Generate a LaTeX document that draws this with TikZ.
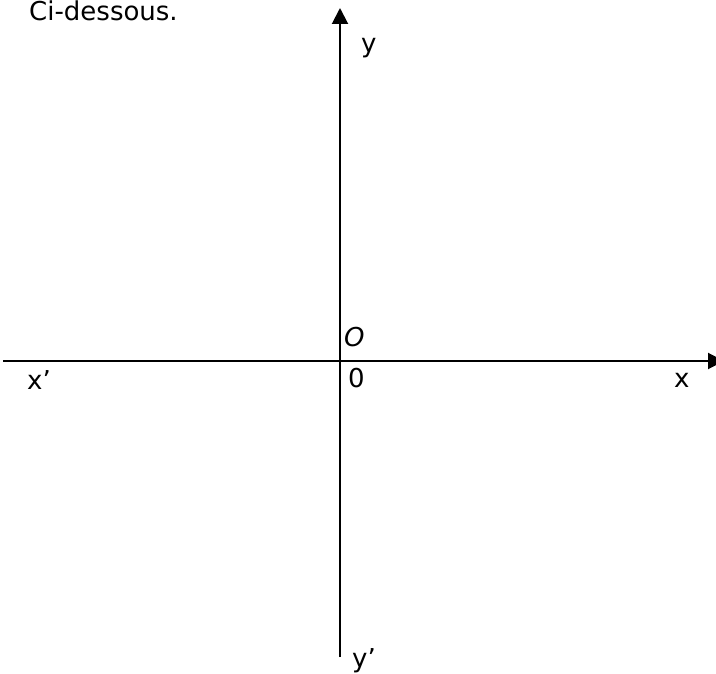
\documentclass[tikz,border=0pt]{standalone}
\usepackage{fontspec}
\setmainfont{DejaVu Sans}
\usetikzlibrary{arrows.meta}
\begin{document}
\begin{tikzpicture}[x=1pt,y=-1pt,
  axis/.style={line width=2pt,-{Triangle[length=16pt,width=16pt]}},
  lbl/.style={anchor=base west,inner sep=0pt,font=\fontsize{26}{31}\selectfont}]
\useasboundingbox (0,0) rectangle (716,674);
\coordinate (ys) at (340,657);
\coordinate (ye) at (340,8);
\coordinate (xs) at (3,361);
\coordinate (xe) at (724,361);
\draw[axis] (ys) -- (ye);
\draw[axis] (xs) -- (xe);
\node[lbl] (title) at (29,21) {Ci-dessous.};
\node[lbl] (ylab) at (361,53) {y};
\node[lbl] (olab) at (344,346) {\itshape O};
\node[lbl] (zero) at (348,387) {0};
\node[lbl] (xlab) at (674,387) {x};
\node[lbl] (xplab) at (27,389) {x'};
\node[lbl] (yplab) at (352,667) {y'};
\end{tikzpicture}
\end{document}
